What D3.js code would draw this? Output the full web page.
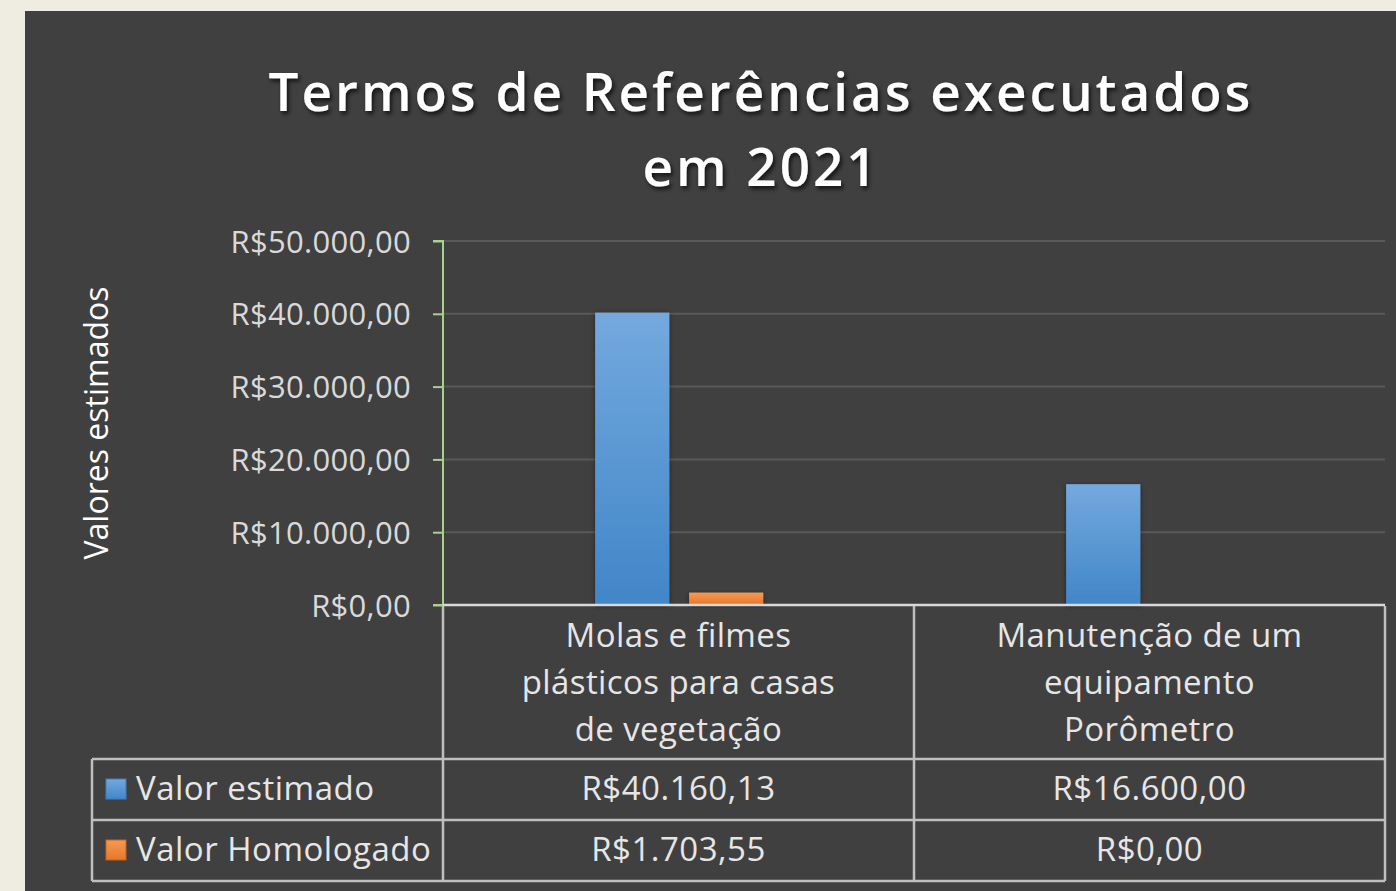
<!DOCTYPE html>
<html>
<head>
<meta charset="utf-8">
<script src="https://cdn.jsdelivr.net/npm/d3@7"></script>
<style>
  body { margin: 0; background: #efede1; }
  svg { display: block; }
  text { font-family: "Open Sans", Lato, sans-serif; }
</style>
</head>
<body>
<div id="chart"></div>
<script>
// data
var categories = [
  ["Molas e filmes", "plásticos para casas", "de vegetação"],
  ["Manutenção de um", "equipamento", "Porômetro"]
];
var seriesNames = ["Valor estimado", "Valor Homologado"];
var valorEstimado = [40160.13, 16600.00];
var valorHomologado = [1703.55, 0];
var yTicks = [0, 10000, 20000, 30000, 40000, 50000];

var width = 1396, height = 891;
var plot = { left: 443, right: 1385, top: 241, bottom: 605 };

var brl = d3.formatLocale({
  decimal: ",", thousands: ".", grouping: [3], currency: ["R$", ""]
}).format("$,.2f");

var svg = d3.select("#chart").append("svg")
  .attr("width", width)
  .attr("height", height);

var defs = svg.append("defs");

var gBlue = defs.append("linearGradient").attr("id", "gBlue")
  .attr("x1", 0).attr("y1", 0).attr("x2", 0).attr("y2", 1);
gBlue.append("stop").attr("offset", 0).attr("stop-color", "#73a9de");
gBlue.append("stop").attr("offset", 1).attr("stop-color", "#4186c8");

var gOrange = defs.append("linearGradient").attr("id", "gOrange")
  .attr("x1", 0).attr("y1", 0).attr("x2", 0).attr("y2", 1);
gOrange.append("stop").attr("offset", 0).attr("stop-color", "#f59a52");
gOrange.append("stop").attr("offset", 1).attr("stop-color", "#e8762a");

var shadow = defs.append("filter").attr("id", "shadow")
  .attr("x", "-20%").attr("y", "-20%").attr("width", "140%").attr("height", "140%");
shadow.append("feDropShadow")
  .attr("dx", 0).attr("dy", 1).attr("stdDeviation", 2.5)
  .attr("flood-color", "#000").attr("flood-opacity", 0.45);

var tshadow = defs.append("filter").attr("id", "tshadow")
  .attr("x", "-10%").attr("y", "-30%").attr("width", "120%").attr("height", "160%");
tshadow.append("feDropShadow")
  .attr("dx", 2).attr("dy", 3).attr("stdDeviation", 2)
  .attr("flood-color", "#000").attr("flood-opacity", 0.7);

// panel
svg.append("rect")
  .attr("x", 25).attr("y", 11)
  .attr("width", width - 25).attr("height", height - 11)
  .attr("fill", "#404040");

// title
var title = svg.append("text")
  .attr("text-anchor", "middle")
  .attr("fill", "#ffffff")
  .style("font-size", "53px")
  .style("font-weight", "600")
  .style("letter-spacing", "3px")
  .attr("filter", "url(#tshadow)");
title.append("tspan").attr("x", 761).attr("y", 111).text("Termos de Referências executados");
title.append("tspan").attr("x", 761).attr("y", 186).text("em 2021");

// scales
var y = d3.scaleLinear()
  .domain([0, 50000])
  .range([plot.bottom, plot.top]);

var x0 = d3.scaleBand()
  .domain(d3.range(categories.length))
  .range([plot.left, plot.right]);

var x1 = d3.scaleBand()
  .domain(seriesNames)
  .range([x0.bandwidth() * 0.323, x0.bandwidth() * 0.68])
  .paddingInner(0.21);

// gridlines
svg.append("g")
  .selectAll("line")
  .data(yTicks.slice(1))
  .enter().append("line")
  .attr("x1", plot.left).attr("x2", plot.right)
  .attr("y1", function (d) { return y(d); })
  .attr("y2", function (d) { return y(d); })
  .attr("stroke", "#595959")
  .attr("stroke-width", 2);

// y axis
var yAxis = d3.axisLeft(y)
  .tickValues(yTicks)
  .tickSize(10)
  .tickPadding(22)
  .tickFormat(brl);

var gy = svg.append("g")
  .attr("transform", "translate(" + plot.left + ",0)")
  .call(yAxis);
gy.select(".domain").attr("stroke", "#a9d18e").attr("stroke-width", 2)
  .attr("d", "M-10," + plot.top + "H0V" + plot.bottom + "H-10");
gy.selectAll(".tick line").attr("stroke", "#a9d18e").attr("stroke-width", 2);
gy.selectAll(".tick text")
  .attr("fill", "#d9d9d9")
  .style("font-size", "31px")
  .style("letter-spacing", "0.3px")
  .attr("dy", "0.36em");

// y axis title
svg.append("text")
  .attr("transform", "translate(108,423) rotate(-90)")
  .attr("text-anchor", "middle")
  .attr("fill", "#ffffff")
  .style("font-size", "32px")
  .text("Valores estimados");

// bars
var rows = seriesNames.map(function (s, i) {
  return { name: s, values: i === 0 ? valorEstimado : valorHomologado, fill: i === 0 ? "url(#gBlue)" : "url(#gOrange)" };
});

var groups = svg.append("g").selectAll("g")
  .data(d3.range(categories.length))
  .enter().append("g")
  .attr("transform", function (d) { return "translate(" + x0(d) + ",0)"; });

groups.selectAll("rect")
  .data(function (c) {
    return rows.map(function (r) { return { name: r.name, value: r.values[c], fill: r.fill }; })
      .filter(function (d) { return d.value > 0; });
  })
  .enter().append("rect")
  .attr("x", function (d) { return x1(d.name); })
  .attr("width", x1.bandwidth())
  .attr("y", function (d) { return y(d.value); })
  .attr("height", function (d) { return y(0) - y(d.value); })
  .attr("fill", function (d) { return d.fill; })
  .attr("filter", "url(#shadow)");

// data table
var table = { left: 92, headBottom: 759, rowH: 61 };
var lineColor = "#bfbfbf";
var tg = svg.append("g").attr("stroke", lineColor).attr("stroke-width", 2.5);

tg.append("line")
  .attr("x1", plot.left).attr("x2", plot.right)
  .attr("y1", plot.bottom).attr("y2", plot.bottom)
  .attr("stroke", "#d9d9d9");

[0, 1, 2].forEach(function (i) {
  var yy = table.headBottom + i * table.rowH;
  tg.append("line")
    .attr("x1", table.left).attr("x2", plot.right)
    .attr("y1", yy).attr("y2", yy);
});

var tableBottom = table.headBottom + 2 * table.rowH;
x0.domain().concat([categories.length]).forEach(function (i) {
  var xx = i < categories.length ? x0(i) : plot.right;
  tg.append("line")
    .attr("x1", xx).attr("x2", xx)
    .attr("y1", plot.bottom + 1).attr("y2", tableBottom);
});
tg.append("line")
  .attr("x1", table.left).attr("x2", table.left)
  .attr("y1", table.headBottom).attr("y2", tableBottom);

// category labels
var cat = svg.append("g").selectAll("text")
  .data(categories)
  .enter().append("text")
  .attr("text-anchor", "middle")
  .attr("fill", "#e6e6e6")
  .style("font-size", "33px")
  .style("letter-spacing", "0.4px");
cat.selectAll("tspan")
  .data(function (d, i) { return d.map(function (l) { return { line: l, c: i }; }); })
  .enter().append("tspan")
  .attr("x", function (d) { return x0(d.c) + x0.bandwidth() / 2; })
  .attr("y", function (d, j) { return 647 + j * 47; })
  .text(function (d) { return d.line; });

// legend keys and series names
rows.forEach(function (r, i) {
  var ry = table.headBottom + i * table.rowH;
  svg.append("rect")
    .attr("x", 106).attr("y", ry + 20)
    .attr("width", 20).attr("height", 20)
    .attr("fill", r.fill)
    .attr("stroke", i === 0 ? "#3f7fbf" : "#c8621d")
    .attr("stroke-width", 1);
  svg.append("text")
    .attr("x", 136).attr("y", ry + 41)
    .attr("fill", "#e6e6e6")
    .style("font-size", "33px")
    .style("letter-spacing", "0.5px")
    .text(r.name);
  svg.append("g").selectAll("text")
    .data(r.values)
    .enter().append("text")
    .attr("x", function (d, c) { return x0(c) + x0.bandwidth() / 2; })
    .attr("y", ry + 41)
    .attr("text-anchor", "middle")
    .attr("fill", "#e6e6e6")
    .style("font-size", "33px")
    .style("letter-spacing", "0.5px")
    .text(function (d) { return brl(d); });
});
</script>
</body>
</html>
